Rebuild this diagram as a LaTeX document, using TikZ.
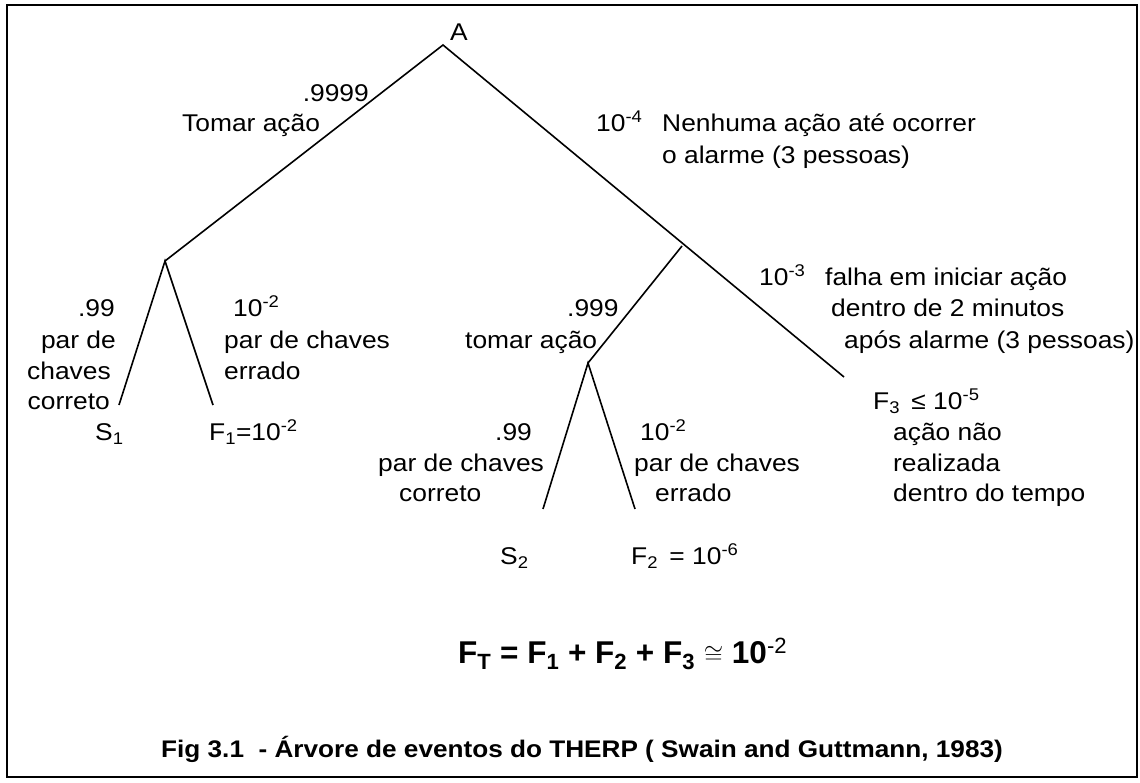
\documentclass[tikz,border=0pt]{standalone}
\usepackage{fontspec}
\setmainfont{Liberation Sans}[FakeStretch=1.09]
\newfontfamily\formfont{Liberation Sans}
\begin{document}
\begin{tikzpicture}[x=1pt,y=-1pt,
  branch/.style={line width=1.6pt},
  frame/.style={line width=2.4pt},
  lbl/.style={inner sep=0pt,anchor=base west,yshift=-1.5pt,font=\fontsize{24.2}{31}\selectfont},
  lblr/.style={lbl,anchor=base east},
  big/.style={inner sep=0pt,anchor=base west,font=\formfont\fontsize{31.5}{36}\selectfont\bfseries},
  captext/.style={inner sep=0pt,anchor=base west,font=\fontsize{24}{30}\selectfont\bfseries}]
\useasboundingbox (0,0) rectangle (1140,783);
\draw[frame] (7,5) rectangle (1137,777);
% tree vertices
\coordinate (A0) at (443,45);
\coordinate (N1) at (165,261);
\coordinate (L1) at (119,405);
\coordinate (L2) at (213,405);
\coordinate (R0) at (844,377);
\coordinate (J)  at (682,246);
\coordinate (N2) at (588,363);
\coordinate (L3) at (543,509);
\coordinate (L4) at (635,509);
% branches
\draw[branch] (N1) -- (A0) -- (R0);
\draw[branch] (L1) -- (N1) -- (L2);
\draw[branch] (J) -- (N2);
\draw[branch] (L3) -- (N2) -- (L4);
% labels
\node[lbl] (tA) at (450,39) {A};
\node[lblr] (t9999) at (369,100) {.9999};
\node[lbl] (tTomar) at (182,130) {Tomar ação};
\node[lbl] (tE4) at (596,130) {10\textsuperscript{-4}};
\node[lbl] (tNen1) at (662,130) {Nenhuma ação até ocorrer};
\node[lbl] (tNen2) at (662,162) {o alarme (3 pessoas)};
% left subtree
\node[lblr] (t99a) at (115,315) {.99};
\node[lblr] (tParA) at (116,347) {par de};
\node[lblr] (tChA) at (111,378) {chaves};
\node[lblr] (tCorA) at (110,408) {correto};
\node[lbl] (tS1) at (95,439) {S\textsubscript{1}};
\node[lbl] (tE2a) at (233,315) {10\textsuperscript{-2}};
\node[lbl] (tParB) at (224,347) {par de chaves};
\node[lbl] (tErrB) at (224,378) {errado};
\node[lbl] (tF1) at (209,439) {F\textsubscript{1}=10\textsuperscript{-2}};
% right part
\node[lbl] (t999) at (567,315) {.999};
\node[lbl] (ttomar) at (465,347) {tomar ação};
\node[lbl] (tE3) at (759,284) {10\textsuperscript{-3}};
\node[lbl] (tFal1) at (825,284) {falha em iniciar ação};
\node[lbl] (tFal2) at (831,315) {dentro de 2 minutos};
\node[lbl] (tFal3) at (844,347) {após alarme (3 pessoas)};
\node[lbl] (tF3) at (873,408) {F\textsubscript{3} \,≤ 10\textsuperscript{-5}};
\node[lbl] (tAc1) at (893,439) {ação não};
\node[lbl] (tAc2) at (893,470) {realizada};
\node[lbl] (tAc3) at (893,500) {dentro do tempo};
% middle subtree
\node[lbl] (t99b) at (495,439) {.99};
\node[lbl] (tParC) at (378,470) {par de chaves};
\node[lbl] (tCorC) at (399,500) {correto};
\node[lbl] (tE2b) at (640,439) {10\textsuperscript{-2}};
\node[lbl] (tParD) at (634,470) {par de chaves};
\node[lbl] (tErrD) at (655,500) {errado};
\node[lbl] (tS2) at (500,563) {S\textsubscript{2}};
\node[lbl] (tF2) at (631,563) {F\textsubscript{2} \,= 10\textsuperscript{-6}};
% formula and caption
\node[big] (tForm) at (458,663) {F\textsubscript{T} = F\textsubscript{1} + F\textsubscript{2} + F\textsubscript{3} {\mdseries$\cong$} 10\textsuperscript{\mdseries -2}};
\node[captext] (tCap) at (161,757) {Fig 3.1\ \ - Árvore de eventos do THERP ( Swain and Guttmann, 1983)};
\end{tikzpicture}
\end{document}
